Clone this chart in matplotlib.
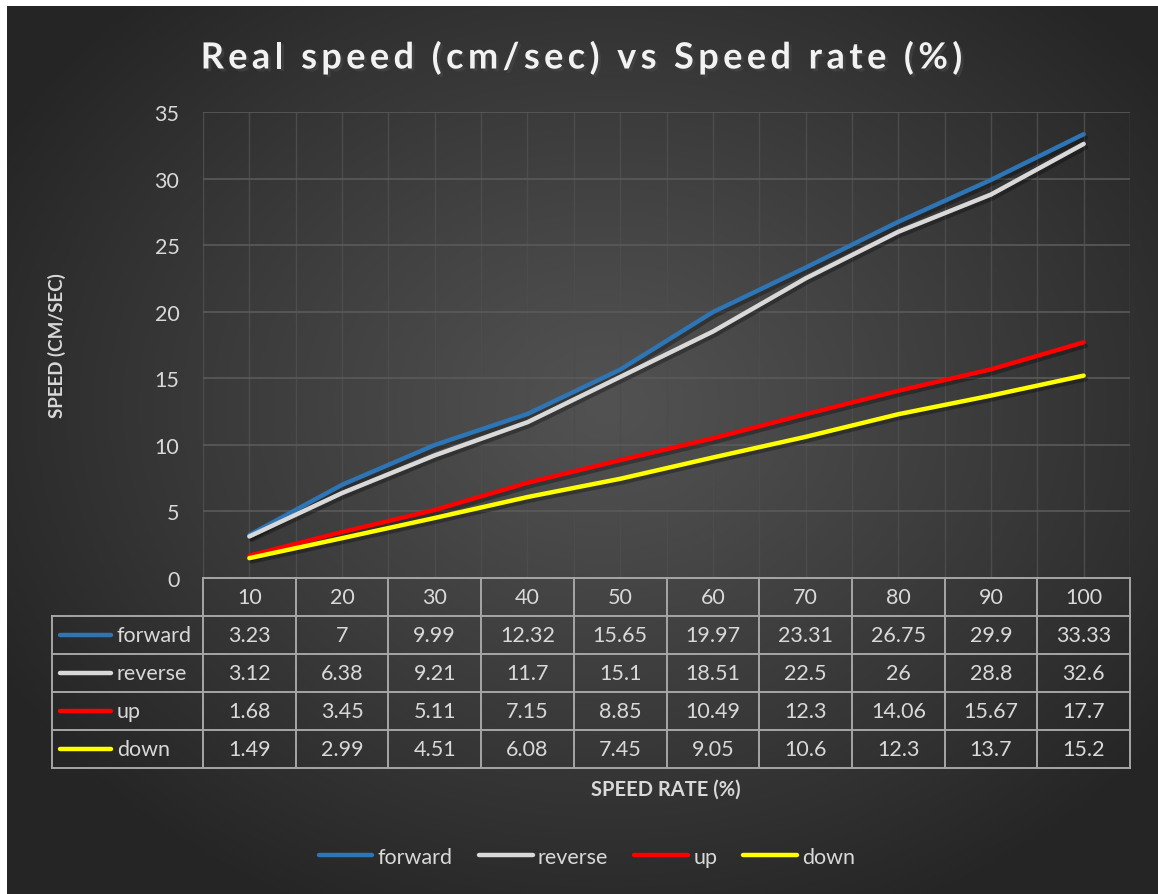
import numpy as np
import matplotlib
matplotlib.use("Agg")
import matplotlib.pyplot as plt
import matplotlib.patheffects as pe
from matplotlib.lines import Line2D

plt.rcParams['font.family'] = ['Lato', 'DejaVu Sans']

# ---- data ----
rates = [10, 20, 30, 40, 50, 60, 70, 80, 90, 100]
forward = [3.23, 7, 9.99, 12.32, 15.65, 19.97, 23.31, 26.75, 29.9, 33.33]
reverse = [3.12, 6.38, 9.21, 11.7, 15.1, 18.51, 22.5, 26, 28.8, 32.6]
up = [1.68, 3.45, 5.11, 7.15, 8.85, 10.49, 12.3, 14.06, 15.67, 17.7]
down = [1.49, 2.99, 4.51, 6.08, 7.45, 9.05, 10.6, 12.3, 13.7, 15.2]
series_names = ["forward", "reverse", "up", "down"]
series_values = [forward, reverse, up, down]
series_colors = ["#2e75b6", "#d9d9d9", "#ff0000", "#ffff00"]
title = "Real speed (cm/sec) vs Speed rate (%)"

TXT = "#d9d9d9"
FS = 15.5
W, H = 1158, 895
fig = plt.figure(figsize=(W / 100, H / 100), dpi=100)
fig.patch.set_facecolor("white")

# dark radial gradient backdrop
bg = fig.add_axes([7 / W, 0, (W - 7) / W, (H - 7) / H])
bg.set_axis_off()
yy, xx = np.mgrid[0:888, 0:1151]
cx, cy = 600, 400
r = np.sqrt(((xx - cx) / 700.0) ** 2 + ((yy - cy) / 560.0) ** 2)
r = np.clip(r, 0, 1)
inner, outer = 0x52 / 255, 0x25 / 255
val = inner + (outer - inner) * r ** 1.1
bg.imshow(np.dstack([val, val, val]), aspect="auto", interpolation="bilinear")
bg.set_zorder(-10)

# plotting area
px_left, px_right, px_top, px_bot = 203, 1130, 113, 579
ax = fig.add_axes([px_left / W, 1 - px_bot / H, (px_right - px_left) / W, (px_bot - px_top) / H])
ax.patch.set_alpha(0)
n = len(rates)
x = np.arange(n)
ax.set_xlim(-0.5, n - 0.5)
ax.set_ylim(0, 35)
ax.set_yticks(np.arange(0, 36, 5))
ax.tick_params(axis="y", length=0, pad=17, labelsize=FS, labelcolor=TXT)
ax.tick_params(axis="x", length=0, labelbottom=False)
ax.set_xticks(np.arange(-0.5, n, 1.0))
ax.set_xticks(x, minor=True)
ax.tick_params(axis="x", which="minor", length=0)
for s in ax.spines.values():
    s.set_visible(False)
ax.grid(axis="y", color="#5a5a5a", lw=1.2)
ax.grid(axis="x", which="both", color="#4c4c4c", lw=1.0)
ax.set_axisbelow(True)

shadow = [pe.SimpleLineShadow(offset=(1.5, -2.5), shadow_color="black", alpha=0.3), pe.Normal()]
for name, vals, col in zip(series_names, series_values, series_colors):
    ax.plot(x, vals, color=col, lw=3.2, solid_capstyle="round", path_effects=shadow, zorder=3)

# data table below the plot
tr = ax.get_xaxis_transform()
row_h = 38 / (px_bot - px_top)
label_w = (px_left - 52) / ((px_right - px_left) / n)
border = dict(color="#a6a6a6", lw=1.4, transform=tr, clip_on=False)
x0 = -0.5
x_left = x0 - label_w
x_right = n - 0.5
n_rows = len(series_names)
ax.add_line(Line2D([x0, x_right], [0, 0], **border))
for i in range(1, n_rows + 2):
    ax.add_line(Line2D([x_left, x_right], [-i * row_h, -i * row_h], **border))
for k in range(n + 1):
    ax.add_line(Line2D([x0 + k, x0 + k], [0, -(n_rows + 1) * row_h], **border))
ax.add_line(Line2D([x_left, x_left], [-row_h, -(n_rows + 1) * row_h], **border))

for j, rate in enumerate(rates):
    ax.text(x[j], -0.5 * row_h, str(rate), transform=tr, ha="center", va="center",
            fontsize=FS, color=TXT, clip_on=False)
for i, (name, vals, col) in enumerate(zip(series_names, series_values, series_colors)):
    yc = -(i + 1.5) * row_h
    for j, v in enumerate(vals):
        ax.text(x[j], yc, f"{v:g}", transform=tr, ha="center", va="center",
                fontsize=FS, color=TXT, clip_on=False)
    k0 = x_left + 0.09
    ax.add_line(Line2D([k0, k0 + 0.55], [yc, yc], color=col, lw=3.2,
                       solid_capstyle="round", transform=tr, clip_on=False))
    ax.text(k0 + 0.61, yc, name, transform=tr, ha="left", va="center",
            fontsize=FS, color=TXT, clip_on=False)

# letter-spaced chart title
renderer = fig.canvas.get_renderer()
tkw = dict(fontsize=26, fontweight="bold")


def text_width(s):
    t = fig.text(0, 0, s + "x", **tkw)
    w = t.get_window_extent(renderer).width
    t.remove()
    return w


wx = text_width("")
advances = [text_width(title[:i]) - wx for i in range(len(title) + 1)]
spacing = 4.4
total = advances[-1] + spacing * (len(title) - 1)
start = 581.5 - total / 2
title_fx = [pe.SimplePatchShadow(offset=(2, -2), alpha=0.55), pe.Normal()]
for i, ch in enumerate(title):
    if ch == " ":
        continue
    fig.text((start + advances[i] + spacing * i) / W, 1 - 56 / H, ch, ha="left", va="center_baseline",
             color="#f2f2f2", path_effects=title_fx, **tkw)

fig.text(57 / W, 1 - 346 / H, "SPEED (CM/SEC)", rotation=90, ha="center", va="center",
         fontsize=13.5, fontweight="bold", color=TXT)
fig.text(666 / W, 1 - 790 / H, "SPEED RATE (%)", ha="center", va="center",
         fontsize=14.5, fontweight="bold", color=TXT)

# legend
handles = [Line2D([], [], color=c, lw=3.2, solid_capstyle="round") for c in series_colors]
fig.legend(handles, series_names, loc="center", bbox_to_anchor=(587 / W, 1 - 858 / H),
           ncol=4, frameon=False, fontsize=FS, handlelength=2.5, handletextpad=0.25,
           columnspacing=1.2, labelcolor=TXT)

fig.savefig("out.png", dpi=100)
